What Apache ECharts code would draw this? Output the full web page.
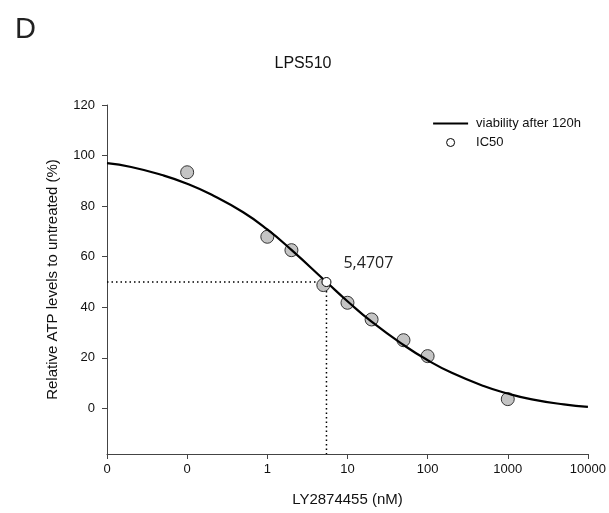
<!DOCTYPE html>
<html>
<head>
<meta charset="utf-8">
<script src="https://cdn.jsdelivr.net/npm/echarts@6/dist/echarts.min.js"></script>
<style>
html,body{margin:0;padding:0;background:#fff;}
#chart{width:609px;height:513px;}
</style>
</head>
<body>
<div id="chart"></div>
<script>
// Measured doses (nM); the untreated control is plotted at 0.1
var doses = [0.1, 1, 2, 5, 10, 20, 50, 100, 1000];
var viability = [93.4, 67.9, 62.6, 48.8, 41.8, 35.2, 27.0, 20.7, 3.7];

// Fitted curve
var curveX = [0.01, 0.02, 0.05, 0.1, 0.2, 0.5, 1, 2, 5.4707, 10, 20, 50, 100, 200, 500, 1000, 2000, 5000, 10000];
var curveY = [97.0, 95.5, 92.2, 88.9, 84.6, 77.6, 70.8, 62.7, 50.0, 42.4, 34.3, 25.1, 19.1, 14.1, 8.9, 5.9, 3.6, 1.6, 0.6];

// IC50
var ic50X = 5.4707;
var ic50Y = 50;
var ic50Label = '5,4707';

// Axes
var xMin = 0.01, xMax = 10000;
var yMin = -18, yMax = 120;
var yTicks = [0, 20, 40, 60, 80, 100, 120];

var chart = echarts.init(document.getElementById('chart'), null, {renderer: 'canvas'});

var axisCol = '#444';
var option = {
  backgroundColor: '#fff',
  animation: false,
  title: [
    {text: 'D', left: 10, top: 10, textStyle: {fontFamily: 'Liberation Sans', fontSize: 29, fontWeight: 'normal', color: '#222'}},
    {text: 'LPS510', left: 298, top: 51, textAlign: 'center', textStyle: {fontFamily: 'Liberation Sans', fontSize: 16, fontWeight: 'normal', color: '#111'}}
  ],
  legend: {
    orient: 'vertical',
    left: 432,
    top: 117,
    padding: 0,
    itemGap: 6,
    itemWidth: 35,
    itemHeight: 8,
    textStyle: {fontFamily: 'Liberation Sans', fontSize: 13, color: '#111', padding: [0, 0, 0, 3]},
    data: [
      {name: 'viability after 120h', itemStyle: {opacity: 0}, lineStyle: {color: '#000', width: 2.2}},
      {name: 'IC50', icon: 'circle', itemStyle: {color: '#fff', borderColor: '#000', borderWidth: 1}}
    ]
  },
  grid: {left: 107, right: 19, top: 105, bottom: 59, containLabel: false},
  xAxis: {
    type: 'log',
    logBase: 10,
    min: xMin,
    max: xMax,
    name: 'LY2874455 (nM)',
    nameLocation: 'middle',
    nameGap: 38,
    nameTextStyle: {fontFamily: 'Liberation Sans', fontSize: 15, color: '#111'},
    axisLine: {show: true, onZero: false, lineStyle: {color: axisCol, width: 1}},
    axisTick: {show: true, inside: false, length: 5, lineStyle: {color: axisCol}},
    minorTick: {show: false},
    splitLine: {show: false},
    axisLabel: {
      showMinLabel: true,
      showMaxLabel: true,
      margin: 9,
      fontFamily: 'Liberation Sans', fontSize: 13, color: '#111',
      formatter: function (v) { return v < 1 ? '0' : String(Math.round(v)); }
    }
  },
  yAxis: {
    type: 'value',
    min: yMin,
    max: yMax,
    name: 'Relative ATP levels to untreated (%)',
    nameLocation: 'middle',
    nameGap: 47,
    nameRotate: 90,
    nameTextStyle: {fontFamily: 'Liberation Sans', fontSize: 15, color: '#111'},
    axisLine: {show: true, onZero: false, lineStyle: {color: axisCol, width: 1}},
    axisTick: {show: true, length: 5, lineStyle: {color: axisCol}, customValues: yTicks},
    splitLine: {show: false},
    axisLabel: {
      customValues: yTicks,
      margin: 12,
      fontFamily: 'Liberation Sans', fontSize: 13, color: '#111'
    }
  },
  series: [
    {
      name: 'ic50-h',
      type: 'line',
      data: [[xMin, ic50Y], [ic50X, ic50Y]],
      symbol: 'none',
      silent: true,
      z: 1,
      lineStyle: {color: '#000', width: 1.5, type: [1.5, 3]}
    },
    {
      name: 'ic50-v',
      type: 'line',
      data: [[ic50X, ic50Y], [ic50X, yMin]],
      symbol: 'none',
      silent: true,
      z: 1,
      lineStyle: {color: '#000', width: 1.5, type: [1.5, 3]}
    },
    {
      name: 'data',
      type: 'scatter',
      data: doses.map(function (d, i) { return [d, viability[i]]; }),
      symbol: 'circle',
      symbolSize: 13,
      z: 2,
      itemStyle: {color: '#c4c4c4', borderColor: '#333', borderWidth: 1, opacity: 1}
    },
    {
      name: 'viability after 120h',
      type: 'line',
      data: curveX.map(function (x, i) { return [x, curveY[i]]; }),
      smooth: 0.5,
      symbol: 'none',
      showSymbol: false,
      z: 3,
      color: '#000',
      lineStyle: {color: '#000', width: 2.2}
    },
    {
      name: 'IC50',
      type: 'scatter',
      data: [[ic50X, ic50Y]],
      symbol: 'circle',
      symbolSize: 9,
      z: 4,
      itemStyle: {color: '#fff', borderColor: '#000', borderWidth: 1, opacity: 1},
      label: {
        show: true,
        formatter: ic50Label,
        position: [22, -22],
        fontFamily: 'Open Sans',
        fontSize: 16,
        color: '#222'
      }
    }
  ]
};
chart.setOption(option);
</script>
</body>
</html>
